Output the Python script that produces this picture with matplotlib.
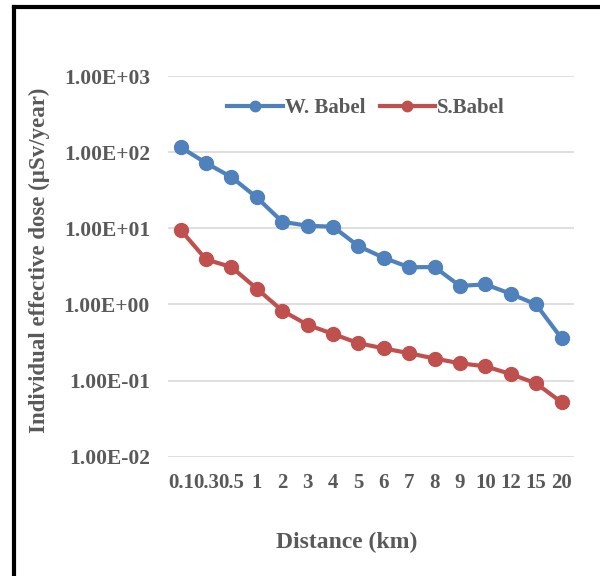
import numpy as np
import matplotlib.pyplot as plt
from matplotlib.lines import Line2D

# distances (km) used as category labels
distance = ["0.1", "0.3", "0.5", "1", "2", "3", "4", "5", "6", "7", "8", "9", "10", "12", "15", "20"]
# individual effective dose (uSv/year)
w_babel = [116, 72, 47, 25.4, 12.2, 10.8, 10.5, 5.85, 4.1, 3.08, 3.1, 1.75, 1.84, 1.38, 1.0, 0.36]
s_babel = [9.5, 3.9, 3.1, 1.61, 0.83, 0.54, 0.41, 0.31, 0.265, 0.229, 0.195, 0.169, 0.154, 0.122, 0.092, 0.052]
ytick_vals = [1e-2, 1e-1, 1e0, 1e1, 1e2, 1e3]
ytick_labels = ["1.00E-02", "1.00E-01", "1.00E+00", "1.00E+01", "1.00E+02", "1.00E+03"]

plt.rcParams['font.family'] = ['Liberation Serif', 'DejaVu Serif']
plt.rcParams['font.weight'] = 'bold'
grey = '#595959'

fig = plt.figure(figsize=(6, 5.76), dpi=100)
ax = fig.add_axes([0.28, 0.207, 0.677, 0.661])

x = np.arange(len(distance))
ax.plot(x, w_babel, color='#4F81BD', lw=3, marker='o', ms=10, label='W. Babel')
ax.plot(x, s_babel, color='#C0504D', lw=3, marker='o', ms=10, label='S.Babel')

ax.set_yscale('log')
ax.set_ylim(1e-2, 1e3)
ax.set_xlim(-0.5, len(distance) - 0.5)
ax.set_yticks(ytick_vals)
ax.set_yticklabels(ytick_labels)
ax.yaxis.set_minor_locator(plt.NullLocator())
ax.set_xticks(x)
ax.set_xticklabels(distance)
ax.tick_params(axis='y', length=0, pad=13, labelsize=15.5, labelcolor=grey)
ax.tick_params(axis='x', length=0, pad=12, labelsize=15, labelcolor=grey)
for lab in ax.get_xticklabels() + ax.get_yticklabels():
    lab.set_fontweight('bold')

ax.grid(axis='y', color='#D9D9D9', lw=1.2)
ax.set_axisbelow(True)
for s in ax.spines.values():
    s.set_visible(False)

ax.set_ylabel('Individual effective dose (µSv/year)', fontsize=16.5, color=grey, fontweight='bold')
ax.yaxis.set_label_coords(-0.29, 0.517)
ax.set_xlabel('Distance (km)', fontsize=17, color=grey, fontweight='bold', va='center')
ax.xaxis.set_label_coords(0.441, -0.226)

leg = fig.legend(loc='center', bbox_to_anchor=(0.61, 0.8125), ncol=2, frameon=False,
                 fontsize=15, handlelength=2.65, handletextpad=0.1, columnspacing=0.7,
                 markerscale=0.75)
for t in leg.get_texts():
    t.set_color(grey)
    t.set_fontweight('bold')

# black frame on top and left of the picture
fig.add_artist(Line2D([0.0225, 1.0], [0.9885, 0.9885], transform=fig.transFigure, color='black', lw=3))
fig.add_artist(Line2D([0.0225, 0.0225], [0.0, 0.9885], transform=fig.transFigure, color='black', lw=3))

fig.savefig('out.png', dpi=100)
